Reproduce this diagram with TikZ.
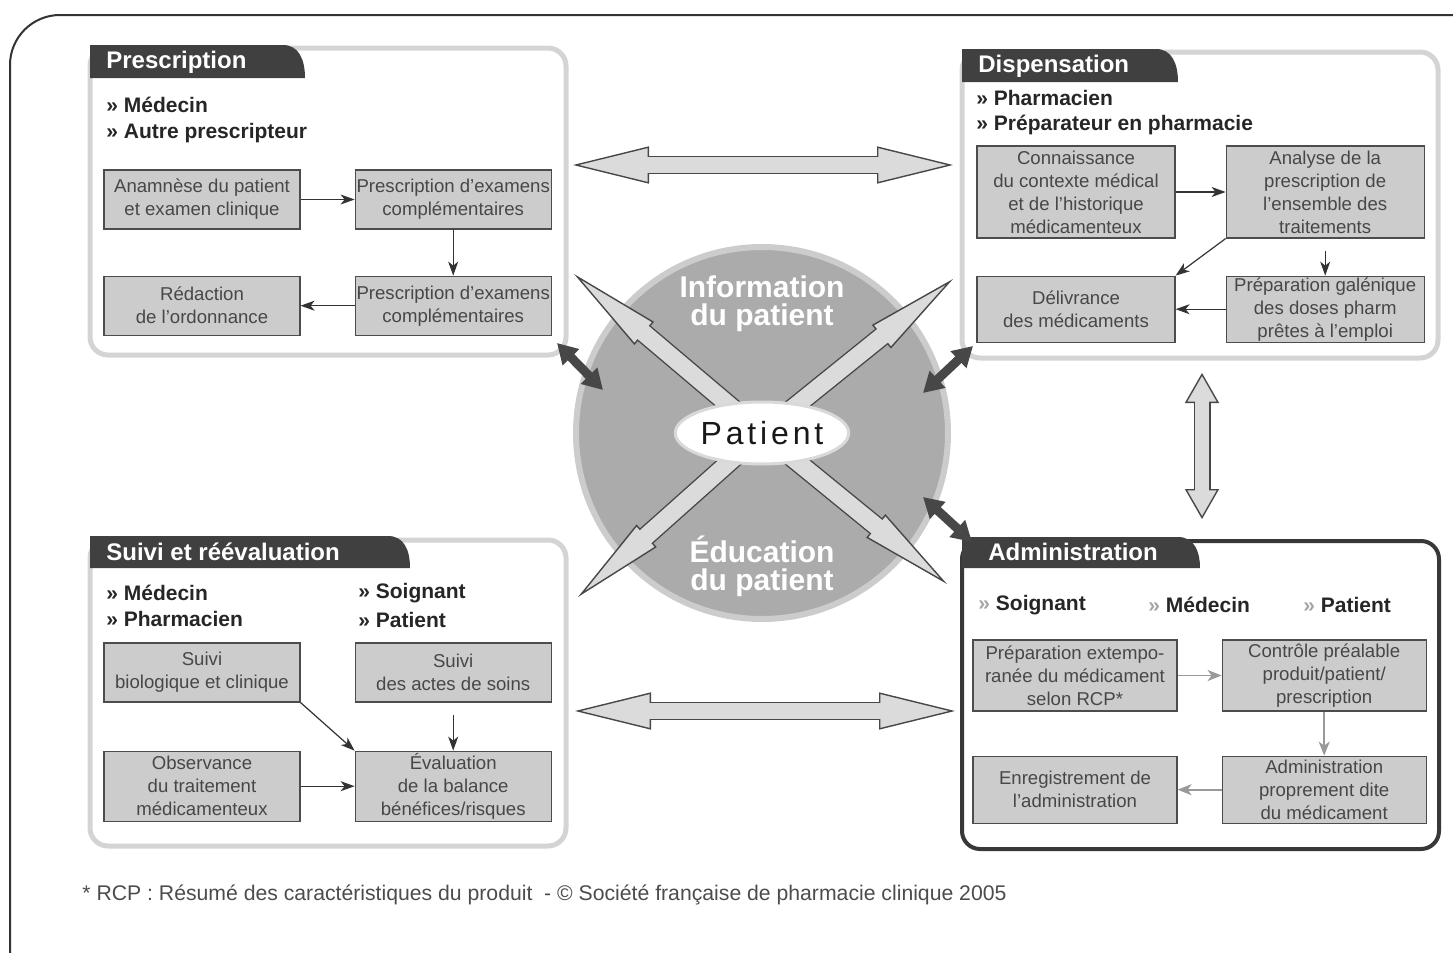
\documentclass[tikz,border=0pt]{standalone}
\usepackage{fontspec}
\setmainfont{Liberation Sans}
\newfontfamily\patfont{Liberation Sans}[LetterSpace=12]
\usetikzlibrary{arrows.meta, positioning, shapes.geometric}
\tikzset{
    frame/.style = {draw=black!80, line width=1pt, rounded corners=25pt},
    panel/.style = {draw=black!17, line width=2.5pt, fill=white, rounded corners=9pt},
    darkpanel/.style = {draw=black!78, line width=2pt, fill=white, rounded corners=9pt},
    tabfill/.style = {fill=black!75},
    tabtext/.style = {text=white, font=\bfseries\fontsize{12}{14}\selectfont, inner sep=0pt, anchor=west},
    roletext/.style = {text=black!85, font=\bfseries\fontsize{10.5}{12}\selectfont, inner sep=0pt, anchor=west},
    procbox/.style = {draw=black!70, fill=black!20, rectangle, line width=0.6pt, inner sep=0pt,
      minimum width=98pt, minimum height=29.5pt, align=center, text=black!72,
      font=\fontsize{9.3}{11.5}\selectfont},
    connect/.style = {black!80, line width=0.6pt, -{Stealth[length=7pt, width=5pt, inset=2pt]}},
    lightconnect/.style = {black!40, line width=0.8pt, -{Stealth[length=7pt, width=5.5pt, inset=2pt]}},
    hub/.style = {circle, fill=black!33, draw=black!20, line width=3pt, minimum size=186pt, inner sep=0pt},
    hubtext/.style = {text=white, align=center, font=\bfseries\fontsize{15}{14}\selectfont, inner sep=0pt},
    patientnode/.style = {ellipse, fill=white, draw=black!15, line width=1.5pt, minimum width=82pt,
      minimum height=31pt, inner sep=0pt, font=\patfont\fontsize{16}{16}\selectfont, text=black!90},
    wideout/.style = {draw=black!72, line width=9pt,
      >={Triangle[length=38pt, width=18.5pt, line width=0.7pt, fill=black!14]}, <->},
    widein/.style = {draw=black!14, line width=7.6pt, shorten >=37pt, shorten <=37pt},
    vout/.style = {draw=black!72, line width=8.5pt,
      >={Triangle[length=15pt, width=17pt, line width=0.7pt, fill=black!14]}, <->},
    vin/.style = {draw=black!14, line width=7.1pt, shorten >=14pt, shorten <=14pt},
    diagout/.style = {draw=black!72, line width=10pt,
      >={Triangle[length=46pt, width=15pt, line width=0.7pt, fill=black!14]}, ->},
    diagin/.style = {draw=black!14, line width=8.6pt, shorten >=45pt},
    darklink/.style = {draw=black!72, line width=4.5pt, >={Triangle[length=10pt, width=11pt]}, <->},
    footnote/.style = {text=black!70, font=\fontsize{10.6}{12}\selectfont, inner sep=0pt, anchor=west}
}
\begin{document}
\begin{tikzpicture}[x=0.5pt, y=-0.5pt]
\useasboundingbox (0,0) rectangle (1453,953);
\draw[frame] (10,953) -- (10,15) -- (1453,15);

\draw[panel] (90,48) rectangle (566,355);
\fill[tabfill] (90,78) -- (90,45) -- (283,45) .. controls (299,45) and (305,60) .. (305,78) -- cycle;
\node[tabtext] (prescT) at (106,62) {Prescription};
\node[roletext] (prescR1) at (106,105) {» Médecin};
\node[roletext] (prescR2) at (106,133) {» Autre prescripteur};
\node[procbox] (anam) at (202,199.5) {Anamnèse du patient\\et examen clinique};
\node[procbox, right=27pt of anam] (exam1) {Prescription d’examens\\complémentaires};
\node[procbox, below=23pt of exam1] (exam2) {Prescription d’examens\\complémentaires};
\node[procbox, below=23pt of anam] (redac) {Rédaction\\de l’ordonnance};
\draw[connect] (anam) -- (exam1);
\draw[connect] (exam1) -- (exam2);
\draw[connect] (exam2) -- (redac);

\draw[panel] (962,52) rectangle (1438,358);
\fill[tabfill] (962,82) -- (962,49) -- (1156,49) .. controls (1172,49) and (1178,64) .. (1178,82) -- cycle;
\node[tabtext] (dispT) at (978,66) {Dispensation};
\node[roletext] (dispR1) at (976,98) {» Pharmacien};
\node[roletext] (dispR2) at (976,125) {» Préparateur en pharmacie};
\node[procbox, minimum width=99pt, minimum height=46pt] (conn) at (1076,192) {Connaissance\\du contexte médical\\et de l’historique\\médicamenteux};
\node[procbox, minimum width=99pt, minimum height=46pt, right=25pt of conn] (analy) {Analyse de la\\prescription de\\l’ensemble des\\traitements};
\node[procbox, minimum width=99pt, minimum height=33pt, below=18.5pt of conn] (deliv) {Délivrance\\des médicaments};
\node[procbox, minimum width=99pt, minimum height=33pt, below=18.5pt of analy] (galen) {Préparation galénique\\des doses pharm\\prêtes à l’emploi};
\draw[connect] (conn) -- (analy);
\draw[connect] (analy.south west) -- (deliv.north east);
\draw[connect, shorten <=6pt] (analy) -- (galen);
\draw[connect] (galen) -- (deliv);

\draw[panel] (90,540) rectangle (566,846);
\fill[tabfill] (90,568) -- (90,536) -- (388,536) .. controls (404,536) and (410,550) .. (410,568) -- cycle;
\node[tabtext] (suiviT) at (106,552) {Suivi et réévaluation};
\node[roletext] (suiviR1) at (106,593) {» Médecin};
\node[roletext] (suiviR2) at (106,619) {» Pharmacien};
\node[roletext] (suiviR3) at (358,593) {» Soignant};
\node[roletext] (suiviR4) at (358,620) {» Patient};
\node[procbox] (suivbio) at (202,672.5) {Suivi\\biologique et clinique};
\node[procbox, right=27pt of suivbio] (suivsoin) {Suivi\\des actes de soins};
\node[procbox, minimum height=35pt, below=24pt of suivbio] (observ) {Observance\\du traitement\\médicamenteux};
\node[procbox, minimum height=35pt, below=24pt of suivsoin] (evalb) {Évaluation\\de la balance\\bénéfices/risques};
\draw[connect] (suivbio.south east) -- (evalb.north west);
\draw[connect, shorten <=6pt] (suivsoin) -- (evalb);
\draw[connect] (observ) -- (evalb);

\draw[darkpanel] (962,541) rectangle (1439,849);
\fill[tabfill] (962,568) -- (962,537) -- (1178,537) .. controls (1194,537) and (1200,551) .. (1200,568) -- cycle;
\node[tabtext] (adminT) at (988,552) {Administration};
\node[roletext] (adminR1) at (978,605) {{\color{black!35}»} Soignant};
\node[roletext] (adminR2) at (1148,605) {{\color{black!35}»} Médecin};
\node[roletext] (adminR3) at (1303,605) {{\color{black!35}»} Patient};
\node[procbox, minimum width=102pt, minimum height=35.5pt] (prepx) at (1075,675.5) {Préparation extempo-\\ranée du médicament\\selon RCP*};
\node[procbox, minimum width=102pt, minimum height=35.5pt, right=22pt of prepx] (ctrl) {Contrôle préalable\\produit/patient/\\prescription};
\node[procbox, minimum width=102pt, minimum height=33.5pt, below=22pt of ctrl] (adm) {Administration\\proprement dite\\du médicament};
\node[procbox, minimum width=102pt, minimum height=33.5pt, below=22pt of prepx] (enreg) {Enregistrement de\\l’administration};
\draw[lightconnect] (prepx) -- (ctrl);
\draw[lightconnect] (ctrl) -- (adm);
\draw[lightconnect] (adm) -- (enreg);

\coordinate (pc) at (762,433);
\node[hub] (hub) at (pc) {};
\node[hubtext] (info) at (762,304) {Information\\du patient};
\node[hubtext] (edu) at (762,566) {Éducation\\du patient};

\coordinate (topL) at (573,165);
\coordinate (topR) at (953,165);
\coordinate (botL) at (575,711);
\coordinate (botR) at (955,711);
\coordinate (sideT) at (1202,373);
\coordinate (sideB) at (1202,519);
\draw[wideout] (topL) -- (topR);
\draw[widein] (topL) -- (topR);
\draw[wideout] (botL) -- (botR);
\draw[widein] (botL) -- (botR);
\draw[vout] (sideT) -- (sideB);
\draw[vin] (sideT) -- (sideB);

\coordinate (tlTip) at (574,274);
\coordinate (trTip) at (953,279);
\coordinate (blTip) at (578,597);
\coordinate (brTip) at (947,584);
\foreach \tip in {tlTip, trTip, blTip, brTip}{
  \draw[diagout] (pc) -- (\tip);
  \draw[diagin] (pc) -- (\tip);
}
\node[patientnode] (pat) at (pc) {Patient};

\coordinate (dlA) at (557,343);
\coordinate (dlB) at (603,390);
\coordinate (drA) at (973,346);
\coordinate (drB) at (923,393);
\coordinate (dbA) at (923,497);
\coordinate (dbB) at (972,542);
\draw[darklink] (dlA) -- (dlB);
\draw[darklink] (drA) -- (drB);
\draw[darklink] (dbA) -- (dbB);

\node[footnote] (note) at (82,895) {* RCP : Résumé des caractéristiques du produit\ \ - © Société française de pharmacie clinique 2005};
\end{tikzpicture}
\end{document}
